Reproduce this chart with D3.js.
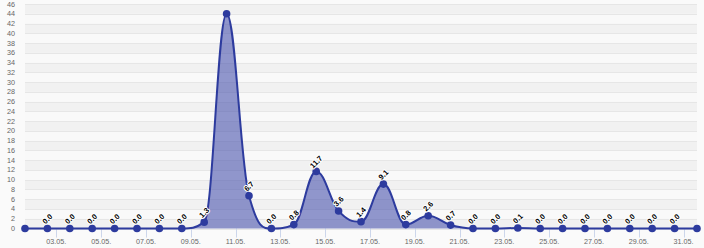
<!DOCTYPE html>
<html>

<head>
  <meta charset="utf-8">
  <title>D3.js</title>
  <style>
    body {
      margin: 0;
      background: #fafafa;
    }
    text {
      font-family: "Liberation Sans", Arial, sans-serif;
    }
  </style>
</head>

<body>
  <svg width="704" height="248"></svg>

  <script src="https://cdnjs.cloudflare.com/ajax/libs/d3/7.8.5/d3.min.js"></script>
  <script>
    // days of May, one point per day
    let days = d3.range(1, 32);
    let values = [0, 0, 0, 0, 0, 0, 0, 0, 1.3, 44, 6.7, 0, 0.8, 11.7, 3.6, 1.4,
                  9.1, 0.8, 2.6, 0.7, 0, 0, 0.1, 0, 0, 0, 0, 0, 0, 0, 0];
    let tickDays = d3.range(3, 32, 2);
    let yTicks = d3.range(0, 47, 2);

    let svg = d3.select('svg');
    let margin = {top: 4, right: 7, bottom: 19.5, left: 25};
    let width = +svg.attr('width');
    let height = +svg.attr('height');

    let x = d3.scaleLinear()
              .domain([1, 31])
              .range([margin.left, width - margin.right]);
    let y = d3.scaleLinear()
              .domain([0, 46])
              .range([height - margin.bottom, margin.top]);

    // alternating grid bands
    svg.append("g")
       .selectAll("rect")
       .data(yTicks.slice(0, -1))
       .enter().append("rect")
       .attr("x", margin.left)
       .attr("width", width - margin.left - margin.right)
       .attr("y", (d) => y(d + 2))
       .attr("height", (d) => y(d) - y(d + 2))
       .attr("fill", (d) => (d / 2) % 2 == 0 ? "#f1f1f1" : "#f9f9f9");

    svg.append("g")
       .selectAll("line")
       .data(yTicks)
       .enter().append("line")
       .attr("x1", margin.left)
       .attr("x2", width - margin.right)
       .attr("y1", (d) => Math.round(y(d)) + 0.5)
       .attr("y2", (d) => Math.round(y(d)) + 0.5)
       .attr("stroke", "#e6e6e6");

    // y axis labels
    svg.append("g")
       .selectAll("text")
       .data(yTicks)
       .enter().append("text")
       .text((d) => d)
       .attr("x", 15)
       .attr("y", (d) => y(d))
       .attr("dy", "0.35em")
       .attr("text-anchor", "end")
       .attr("font-size", 7.2)
       .attr("fill", "#666");

    // x axis ticks sit between the daily points
    let tickPos = (d) => x(d - 0.6);
    let xAxis = svg.append("g");
    xAxis.selectAll("line")
         .data(tickDays)
         .enter().append("line")
         .attr("x1", (d) => Math.round(tickPos(d)) + 0.5)
         .attr("x2", (d) => Math.round(tickPos(d)) + 0.5)
         .attr("y1", y(0))
         .attr("y2", y(0) + 9)
         .attr("stroke", "#ccd6eb");
    xAxis.selectAll("text")
         .data(tickDays)
         .enter().append("text")
         .text((d) => d3.format("02")(d) + ".05.")
         .attr("x", (d) => tickPos(d))
         .attr("y", 244)
         .attr("text-anchor", "middle")
         .attr("font-size", 7.2)
         .attr("fill", "#666");

    let data = days.map((d, i) => ({day: d, value: values[i]}));
    let pts = data.map((d) => [x(d.day), y(d.value)]);

    // spline with flat tangents at local peaks (control points at 0.4 of the gap)
    function spline(p, path) {
      let n = p.length, cl = [], cr = [];
      for (let i = 1; i < n - 1; i++) {
        let [px, py] = p[i], [lx, ly] = p[i - 1], [nx, ny] = p[i + 1];
        let lcx = (1.5 * px + lx) / 2.5, lcy = (1.5 * py + ly) / 2.5;
        let rcx = (1.5 * px + nx) / 2.5, rcy = (1.5 * py + ny) / 2.5;
        let corr = ((rcy - lcy) * (rcx - px)) / (rcx - lcx) + py - rcy;
        lcy += corr;
        rcy += corr;
        if (lcy > Math.max(ly, py)) { lcy = Math.max(ly, py); rcy = 2 * py - lcy; }
        else if (lcy < Math.min(ly, py)) { lcy = Math.min(ly, py); rcy = 2 * py - lcy; }
        if (rcy > Math.max(py, ny)) { rcy = Math.max(py, ny); lcy = 2 * py - rcy; }
        else if (rcy < Math.min(py, ny)) { rcy = Math.min(py, ny); lcy = 2 * py - rcy; }
        cl[i] = [lcx, lcy];
        cr[i] = [rcx, rcy];
      }
      path.moveTo(p[0][0], p[0][1]);
      for (let i = 1; i < n; i++) {
        let c1 = cr[i - 1] || p[i - 1], c2 = cl[i] || p[i];
        path.bezierCurveTo(c1[0], c1[1], c2[0], c2[1], p[i][0], p[i][1]);
      }
      return path;
    }

    let linePath = spline(pts, d3.path());
    let areaPath = spline(pts, d3.path());
    areaPath.lineTo(pts[pts.length - 1][0], y(0));
    areaPath.lineTo(pts[0][0], y(0));
    areaPath.closePath();

    svg.append("path")
       .attr("d", areaPath.toString())
       .attr("fill", "#3a46a8")
       .attr("fill-opacity", 0.55);
    svg.append("path")
       .attr("d", linePath.toString())
       .attr("fill", "none")
       .attr("stroke", "#2d3b9e")
       .attr("stroke-width", 2);

    svg.append("g")
       .selectAll("circle")
       .data(data)
       .enter().append("circle")
       .attr("cx", (d) => x(d.day))
       .attr("cy", (d) => y(d.value))
       .attr("r", 3.8)
       .attr("fill", "#2d3b9e");

    // rotated value labels, dropped when they leave the plot area
    let labels = svg.append("g")
                    .selectAll("text")
                    .data(data)
                    .enter().append("text")
                    .text((d) => d.value.toFixed(1))
                    .attr("transform", (d) => "translate(" + x(d.day) + "," + (y(d.value) - 9.5) + ") rotate(-45)")
                    .attr("text-anchor", "middle")
                    .attr("dy", "0.35em")
                    .attr("font-size", 7.5)
                    .attr("font-weight", "bold")
                    .attr("fill", "#000")
                    .attr("stroke", "#fff")
                    .attr("stroke-width", 2)
                    .attr("stroke-linejoin", "round")
                    .attr("paint-order", "stroke");
    labels.each(function(d) {
      let b = this.getBoundingClientRect();
      if (b.left < margin.left || b.right > width - margin.right || b.top < margin.top) {
        d3.select(this).remove();
      }
    });
  </script>
</body>

</html>
